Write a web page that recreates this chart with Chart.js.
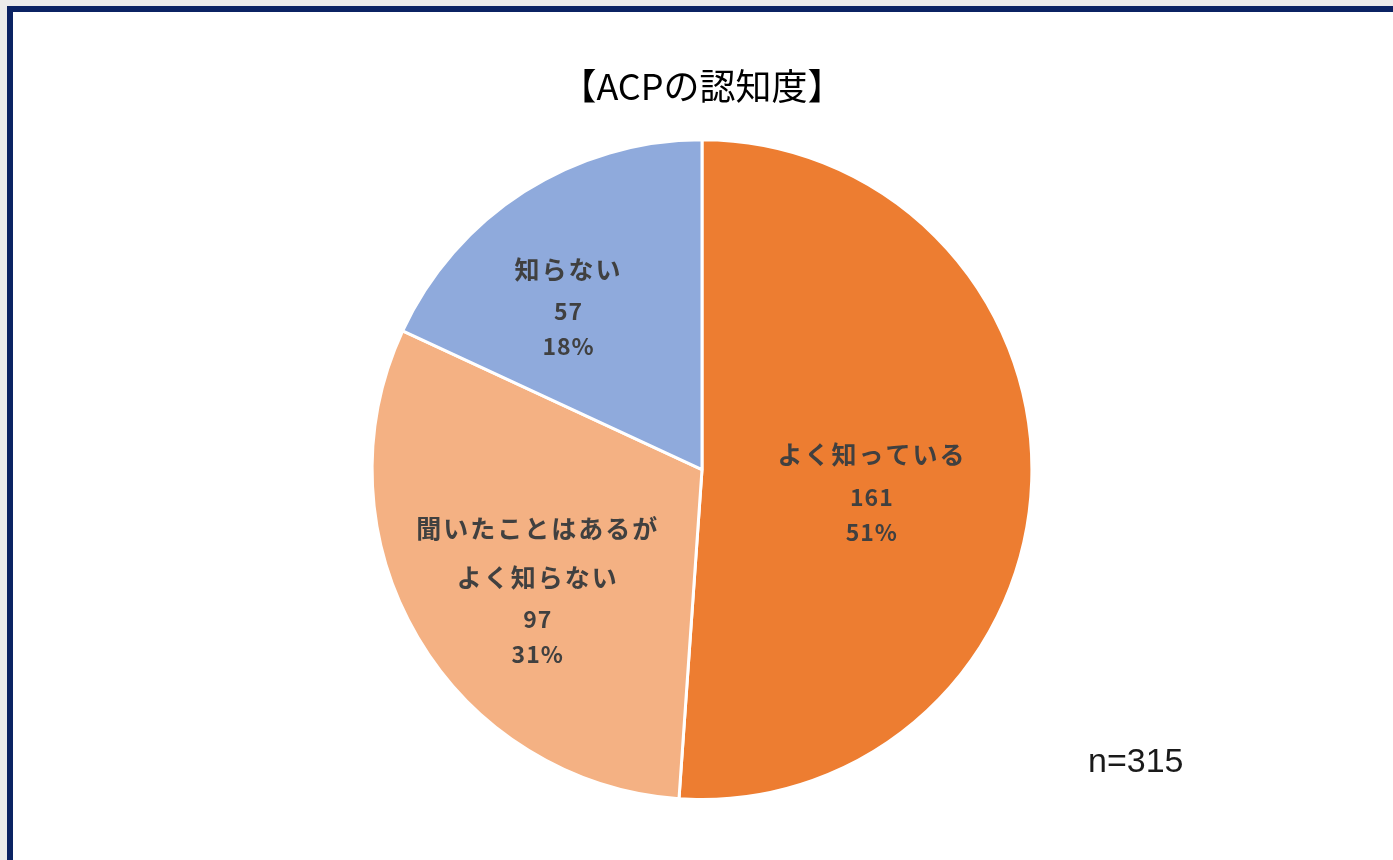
<!DOCTYPE html>
<html lang="ja">
<head>
<meta charset="utf-8">
<script src="https://cdn.jsdelivr.net/npm/chart.js@4"></script>
<style>
  html, body { margin: 0; padding: 0; }
  body { width: 1393px; height: 860px; background: #ececeb; overflow: hidden; position: relative; }
  .frame {
    position: absolute; left: 7px; top: 6px; right: 0; bottom: -10px;
    background: #fff; border-left: 6px solid #0b2363; border-top: 6px solid #0b2363;
  }
  .frame canvas { display: block; }
</style>
</head>
<body>
<div class="frame"><canvas id="pie" width="1386" height="854"></canvas></div>
<script>
  const categories = ['よく知っている', '聞いたことはあるが\nよく知らない', '知らない'];
  const counts = [161, 97, 57];
  const sliceColors = ['#ed7d31', '#f4b183', '#8faadc'];
  const total = counts.reduce((a, b) => a + b, 0);

  // label block placement: fraction of radius, and a small turn (degrees) off the mid-angle
  const labelRadius = [0.52, 0.62, 0.635];
  const labelTurn = [6, -6, -7];

  const sliceLabels = {
    id: 'sliceLabels',
    afterDatasetsDraw(chart) {
      const ctx = chart.ctx;
      const meta = chart.getDatasetMeta(0);
      ctx.save();
      ctx.fillStyle = '#404040';
      ctx.textAlign = 'center';
      ctx.textBaseline = 'middle';
      meta.data.forEach((arc, i) => {
        const p = arc.getProps(['x', 'y', 'startAngle', 'endAngle', 'outerRadius'], true);
        const mid = (p.startAngle + p.endAngle) / 2 + labelTurn[i] * Math.PI / 180;
        const r = p.outerRadius * labelRadius[i];
        const cx = p.x + Math.cos(mid) * r;
        const cy = p.y + Math.sin(mid) * r;

        const rows = categories[i].split('\n').map(t => ({ t, jp: true }));
        rows.push({ t: String(counts[i]), jp: false });
        rows.push({ t: Math.round(counts[i] / total * 100) + '%', jp: false });

        // spacing between rows depends on what sits above/below
        const ys = [0];
        for (let k = 1; k < rows.length; k++) {
          const a = rows[k - 1].jp, b = rows[k].jp;
          ys.push(ys[k - 1] + (a && b ? 49 : a ? 42 : 35));
        }
        const off = cy - ys[ys.length - 1] / 2;
        rows.forEach((row, k) => {
          ctx.font = row.jp ? 'bold 25px "Noto Sans CJK JP", sans-serif' : 'bold 23px "Noto Sans CJK JP", sans-serif';
          ctx.letterSpacing = row.jp ? '2px' : '1px';
          ctx.fillText(row.t, cx, off + ys[k]);
        });
      });
      ctx.restore();
    }
  };

  const sampleNote = {
    id: 'sampleNote',
    afterDraw(chart) {
      const ctx = chart.ctx;
      ctx.save();
      ctx.fillStyle = '#1a1a1a';
      ctx.font = '34px "Liberation Sans", Arial, sans-serif';
      ctx.textAlign = 'left';
      ctx.textBaseline = 'middle';
      ctx.fillText('n=' + total, 1075, 751);
      ctx.restore();
    }
  };

  new Chart(document.getElementById('pie'), {
    type: 'pie',
    data: {
      labels: categories,
      datasets: [{
        data: counts,
        backgroundColor: sliceColors,
        borderColor: '#ffffff',
        borderWidth: 3
      }]
    },
    options: {
      responsive: false,
      animation: false,
      layout: { padding: { top: 0, bottom: 65, left: 0, right: 8 } },
      plugins: {
        legend: { display: false },
        tooltip: { enabled: false },
        title: {
          display: true,
          text: '【ACPの認知度】',
          color: '#000',
          font: { family: '"Noto Sans CJK JP", sans-serif', size: 36, weight: 'normal', lineHeight: 1.2 },
          padding: { top: 53, bottom: 30 }
        }
      }
    },
    plugins: [sliceLabels, sampleNote]
  });
</script>
</body>
</html>
